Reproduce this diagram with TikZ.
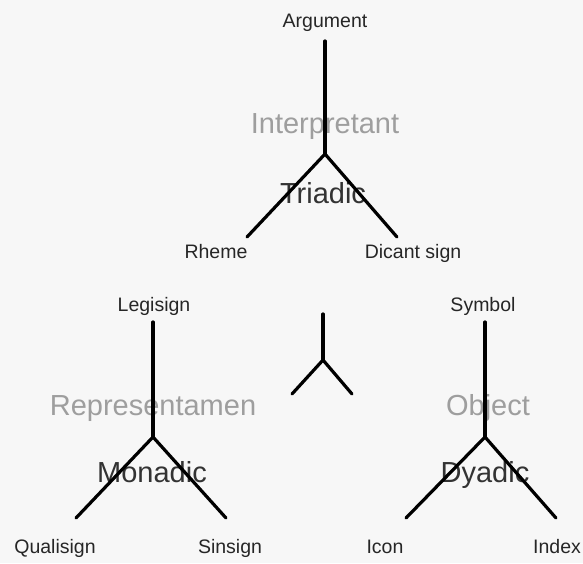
\documentclass[tikz,border=0pt]{standalone}
\usepackage{fontspec}
\setmainfont{Liberation Sans}
\begin{document}
\begin{tikzpicture}[x=1pt,y=-1pt,
  lbl/.style={inner sep=0pt,anchor=base,font=\fontsize{19.5}{20}\selectfont,text=black!85},
  big/.style={inner sep=0pt,anchor=base,font=\fontsize{29}{30}\selectfont,text=black!80},
  faint/.style={inner sep=0pt,anchor=base,font=\fontsize{29}{30}\selectfont,text=black!38},
  arm/.style={line width=3.2pt,black,line cap=round}]
\fill[black!3] (0,0) rectangle (583,563);
\useasboundingbox (0,0) rectangle (583,563);
% top group
\node[lbl] (argument) at (325,27) {Argument};
\node[faint] (interp) at (325,133) {Interpretant};
\node[big] (triadic) at (323,203) {Triadic};
\node[lbl] (rheme) at (216,258) {Rheme};
\node[lbl] (dicent) at (413,258) {Dicant sign};
\coordinate (tT) at (325,41);
\coordinate (tJ) at (325,154);
\coordinate (tL) at (247,237);
\coordinate (tR) at (397,237);
\draw[arm] (tT) -- (tJ);
\draw[arm] (tJ) -- (tL);
\draw[arm] (tJ) -- (tR);
% left group
\node[lbl] (legisign) at (154,311) {Legisign};
\node[faint] (repr) at (153,415) {Representamen};
\node[big] (monadic) at (152,482) {Monadic};
\node[lbl] (qualisign) at (55,553) {Qualisign};
\node[lbl] (sinsign) at (230,553) {Sinsign};
\coordinate (lT) at (153,322);
\coordinate (lJ) at (153,437);
\coordinate (lL) at (76,518);
\coordinate (lR) at (226,518);
\draw[arm] (lT) -- (lJ);
\draw[arm] (lJ) -- (lL);
\draw[arm] (lJ) -- (lR);
% right group
\node[lbl] (symbol) at (483,311) {Symbol};
\node[faint] (object) at (488,415) {Object};
\node[big] (dyadic) at (485,482) {Dyadic};
\node[lbl] (icon) at (385,553) {Icon};
\node[lbl] (index) at (557,553) {Index};
\coordinate (rT) at (485,322);
\coordinate (rJ) at (485,437);
\coordinate (rL) at (406,518);
\coordinate (rR) at (556,518);
\draw[arm] (rT) -- (rJ);
\draw[arm] (rJ) -- (rL);
\draw[arm] (rJ) -- (rR);
% small centre mark
\coordinate (sT) at (323,314);
\coordinate (sJ) at (323,360);
\coordinate (sL) at (292,394);
\coordinate (sR) at (352,394);
\draw[arm] (sT) -- (sJ);
\draw[arm] (sJ) -- (sL);
\draw[arm] (sJ) -- (sR);
\end{tikzpicture}
\end{document}
